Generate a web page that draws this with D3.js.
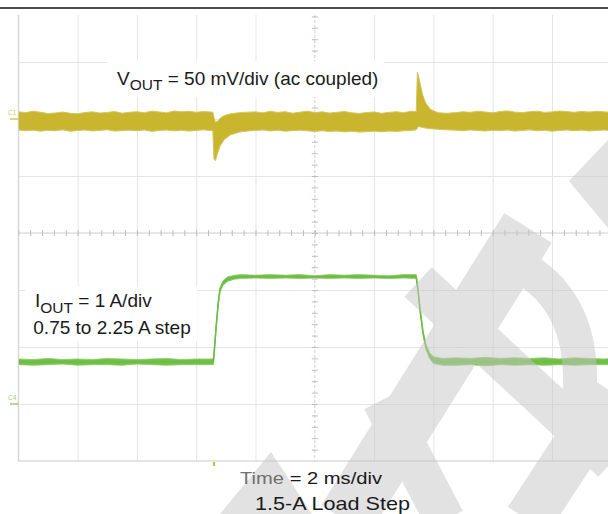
<!DOCTYPE html>
<html>
<head>
<meta charset="utf-8">
<script src="https://cdn.jsdelivr.net/npm/d3@7"></script>
<style>
  html, body { margin: 0; padding: 0; background: #fff; }
  svg { display: block; }
  text { font-family: "Liberation Sans", Arial, sans-serif; }
</style>
</head>
<body>
<svg id="chart" width="608" height="514"></svg>
<script>
// ---- scope settings ----
const timeDiv = 2;      // ms per division
const divisionsX = 10;
const voltDiv = 50;     // mV per division (CH1, ac coupled)
const ampDiv = 1;       // A per division (CH4)
const divisionsY = 8;

// ---- CH1: V_OUT ripple envelope, mV ----
const vTime = [
  0, 0.25, 0.5, 0.75, 1, 1.25, 1.5, 1.75, 2, 2.25, 2.5, 2.75, 3, 3.25, 3.5, 3.75, 4, 4.25, 4.5, 4.75, 5, 5.25, 5.5, 5.75, 6, 6.25, 6.5,
  6.56, 6.6, 6.65, 6.72, 6.82, 6.95, 7.15, 7.45, 7.75,
  8, 8.25, 8.5, 8.75, 9, 9.25, 9.5, 9.75, 10, 10.25, 10.5, 10.75, 11, 11.25, 11.5, 11.75, 12, 12.25, 12.5, 12.75, 13, 13.25,
  13.42, 13.46, 13.5, 13.56, 13.64, 13.74, 13.9, 14.15, 14.45,
  14.75, 15, 15.25, 15.5, 15.75, 16, 16.25, 16.5, 16.75, 17, 17.25, 17.5, 17.75, 18, 18.25, 18.5, 18.75, 19, 19.25, 19.5, 19.75, 20
];
const vHigh = [
  6.4, 5.6, 6.8, 5.9, 4.8, 5.3, 6.1, 5.0, 4.6, 5.7, 6.3, 5.2, 5.8, 6.6, 5.1, 5.9, 6.4, 5.5, 6.9, 6.2, 5.4, 7.0, 6.3, 6.8, 5.9, 6.5, 6.1,
  6.0, 1.5, -3.0, -2.0, 1.0, 3.0, 4.5, 5.5, 6.0,
  6.2, 5.5, 6.7, 5.8, 6.4, 5.1, 6.0, 6.9, 5.6, 6.3, 5.2, 5.9, 6.5, 5.4, 4.9, 5.7, 6.2, 5.0, 5.8, 6.4, 5.5, 6.8,
  6.5, 41.0, 37.5, 30.0, 21.0, 14.0, 8.5, 5.5, 5.0,
  5.6, 6.3, 5.9, 6.8, 6.1, 5.4, 6.6, 7.1, 6.0, 5.7, 6.4, 6.9, 5.8, 6.2, 7.0, 6.5, 5.9, 6.6, 6.1, 6.8, 6.3, 5.8
];
const vLow = [
  -9.6, -10.3, -9.8, -10.7, -9.9, -10.4, -9.5, -10.8, -10.1, -9.7, -10.5, -10.0, -9.4, -10.6, -10.2, -9.8, -10.3, -9.6, -10.9, -10.1, -9.7, -10.4, -9.9, -10.6, -10.0, -9.5, -10.2,
  -10.0, -35.5, -36.5, -30.0, -23.0, -18.0, -14.0, -11.5, -10.5,
  -10.1, -9.6, -10.5, -9.9, -10.7, -10.2, -9.8, -10.4, -10.9, -10.3, -11.0, -10.6, -11.3, -10.8, -11.5, -11.1, -10.7, -11.2, -10.6, -10.9, -10.4, -10.0,
  -9.5, -8.0, -6.5, -7.0, -7.5, -8.0, -8.5, -9.0, -9.5,
  -9.8, -10.3, -9.6, -10.1, -10.5, -9.9, -10.2, -9.7, -10.6, -10.0, -9.5, -10.4, -9.9, -10.7, -10.1, -9.6, -10.3, -9.8, -10.5, -10.0, -9.7, -10.2
];

// ---- CH4: I_OUT envelope, A (0.75 A -> 2.25 A -> 0.75 A) ----
const iTime = [
  0, 0.5, 1, 1.5, 2, 2.5, 3, 3.5, 4, 4.5, 5, 5.5, 6, 6.5,
  6.58, 6.62, 6.68, 6.74, 6.8, 6.9, 7.05, 7.3,
  7.5, 8, 8.5, 9, 9.5, 10, 10.5, 11, 11.5, 12, 12.5, 13, 13.42,
  13.48, 13.55, 13.65, 13.75, 13.87, 14, 14.3,
  14.75, 15.25, 15.75, 16.25, 16.75, 17.25, 17.75, 18.25, 18.75, 19.25, 19.75, 20
];
const iHigh = [
  0.79, 0.78, 0.80, 0.78, 0.79, 0.78, 0.80, 0.79, 0.78, 0.79, 0.80, 0.78, 0.79, 0.79,
  0.80, 1.05, 1.45, 1.80, 2.04, 2.16, 2.23, 2.26,
  2.27, 2.26, 2.27, 2.26, 2.27, 2.25, 2.27, 2.26, 2.27, 2.26, 2.25, 2.27, 2.27,
  2.04, 1.69, 1.29, 1.05, 0.90, 0.83, 0.80,
  0.81, 0.80, 0.82, 0.80, 0.81, 0.80, 0.81, 0.79, 0.81, 0.80, 0.79, 0.80
];
const iLow = [
  0.69, 0.68, 0.69, 0.70, 0.68, 0.69, 0.69, 0.68, 0.70, 0.69, 0.68, 0.69, 0.69, 0.69,
  0.69, 0.95, 1.35, 1.70, 1.96, 2.08, 2.15, 2.19,
  2.20, 2.21, 2.20, 2.21, 2.20, 2.21, 2.20, 2.21, 2.20, 2.21, 2.20, 2.21, 2.20,
  1.96, 1.61, 1.21, 0.95, 0.80, 0.71, 0.68,
  0.68, 0.69, 0.67, 0.69, 0.68, 0.69, 0.68, 0.69, 0.68, 0.69, 0.69, 0.69
];

// ---- captions ----
const vCaption = { name: "V", sub: "OUT", rest: " = 50 mV/div (ac coupled)" };
const iCaption = { name: "I", sub: "OUT", rest: " = 1 A/div" };
const stepCaption = "0.75 to 2.25 A step";
const timeCaption = ["Time", " = 2 ms/div"];
const figTitle = "1.5-A Load Step";

// ---- layout ----
const W = 608, H = 514;
const scrLeft = 18.3, scrTop = 5, divW = 59.3, divH = 57;
const scrRight = scrLeft + divW * divisionsX;
const scrBottom = scrTop + divH * divisionsY;
const visibleTop = 15;

const x = d3.scaleLinear().domain([0, timeDiv * divisionsX]).range([scrLeft, scrRight]);
const yV = d3.scaleLinear().domain([-6 * voltDiv, 2 * voltDiv]).range([scrBottom, scrTop]);
const yI = d3.scaleLinear().domain([-1 * ampDiv, 7 * ampDiv]).range([scrBottom, scrTop]);

const svg = d3.select("#chart");
svg.append("rect").attr("width", W).attr("height", H).attr("fill", "#fff");

const defs = svg.append("defs");
defs.append("clipPath").attr("id", "screen")
  .append("rect").attr("x", scrLeft).attr("y", visibleTop)
  .attr("width", W - scrLeft).attr("height", scrBottom - visibleTop);

const screen = svg.append("g").attr("clip-path", "url(#screen)");

// graticule: major divisions
const xMajor = d3.range(0, timeDiv * divisionsX + 0.001, timeDiv);
const vMajor = d3.range(-6 * voltDiv, 2 * voltDiv + 0.001, voltDiv);
const xCenter = timeDiv * divisionsX / 2;
const vCenter = -2 * voltDiv;

const gridX = screen.append("g").attr("transform", `translate(0,${scrBottom})`)
  .call(d3.axisBottom(x).tickValues(xMajor.filter(d => d !== xCenter))
    .tickSize(-(scrBottom - visibleTop)).tickFormat(""));
const gridY = screen.append("g").attr("transform", `translate(${scrLeft},0)`)
  .call(d3.axisLeft(yV).tickValues(vMajor.filter(d => d !== vCenter))
    .tickSize(-(W - scrLeft)).tickFormat(""));
[gridX, gridY].forEach(g => {
  g.select(".domain").remove();
  g.selectAll("line").attr("stroke", "#e5e5e5").attr("stroke-width", 1);
});

// center cross with minor ticks
const centerY = yV(vCenter), centerX = x(xCenter);
screen.append("line").attr("x1", scrLeft).attr("x2", W).attr("y1", centerY).attr("y2", centerY)
  .attr("stroke", "#cfcfcf").attr("stroke-width", 1);
screen.append("line").attr("x1", centerX).attr("x2", centerX).attr("y1", visibleTop).attr("y2", scrBottom)
  .attr("stroke", "#cfcfcf").attr("stroke-width", 1).attr("stroke-dasharray", "3,2");

const minorX = screen.append("g").attr("transform", `translate(0,${centerY - 3})`)
  .call(d3.axisBottom(x).tickValues(d3.range(0, timeDiv * divisionsX + 0.001, timeDiv / 5))
    .tickSize(6).tickFormat(""));
const minorY = screen.append("g").attr("transform", `translate(${centerX + 3},0)`)
  .call(d3.axisLeft(yV).tickValues(d3.range(-6 * voltDiv, 2 * voltDiv + 0.001, voltDiv / 5))
    .tickSize(6).tickFormat(""));
[minorX, minorY].forEach(g => {
  g.select(".domain").remove();
  g.selectAll("line").attr("stroke", "#bdbdbd").attr("stroke-width", 1);
});

// CH1 trace
const vData = vTime.map((t, i) => ({ t, hi: vHigh[i], lo: vLow[i] }));
screen.append("path").datum(vData)
  .attr("d", d3.area().x(d => x(d.t)).y0(d => yV(d.lo)).y1(d => yV(d.hi)))
  .attr("fill", "#c9b62e").attr("stroke", "#d4c65a").attr("stroke-width", 1);

// CH4 trace
const iData = iTime.map((t, i) => ({ t, hi: iHigh[i], lo: iLow[i] }));
screen.append("path").datum(iData)
  .attr("d", d3.area().x(d => x(d.t)).y0(d => yI(d.lo)).y1(d => yI(d.hi)))
  .attr("fill", "#74c04a").attr("stroke", "#8acb66").attr("stroke-width", 0.8);
screen.append("path").datum(iData)
  .attr("d", d3.line().x(d => x(d.t)).y(d => yI((d.hi + d.lo) / 2)))
  .attr("fill", "none").attr("stroke", "#6cbc42").attr("stroke-width", 1.5);

// screen frame (left and bottom edges)
svg.append("line").attr("x1", scrLeft).attr("x2", scrLeft).attr("y1", visibleTop).attr("y2", scrBottom)
  .attr("stroke", "#d0d0d0");
svg.append("line").attr("x1", scrLeft).attr("x2", W).attr("y1", scrBottom).attr("y2", scrBottom)
  .attr("stroke", "#cbcbcb");

// channel ground markers and trigger position
const marker = (label, yPos, color) => {
  svg.append("text").attr("x", 8).attr("y", yPos - 4).attr("font-size", 6.5)
    .attr("fill", color).attr("opacity", 0.75).text(label);
  svg.append("line").attr("x1", 10).attr("x2", scrLeft).attr("y1", yPos).attr("y2", yPos)
    .attr("stroke", color).attr("stroke-width", 1.4).attr("opacity", 0.8);
};
marker("C1", yV(0), "#c8b52c");
marker("C4", yI(0), "#72c048");
svg.append("line").attr("x1", x(6.6)).attr("x2", x(6.6)).attr("y1", scrBottom + 1).attr("y2", scrBottom + 5)
  .attr("stroke", "#b9c23a").attr("stroke-width", 2);

// top rule
svg.append("line").attr("x1", 0).attr("x2", W).attr("y1", 8).attr("y2", 8)
  .attr("stroke", "#111").attr("stroke-width", 1.6);

// caption boxes
svg.append("rect").attr("x", 107).attr("y", 61).attr("width", 277).attr("height", 36).attr("fill", "#fff");
svg.append("rect").attr("x", 25).attr("y", 286).attr("width", 172).attr("height", 55).attr("fill", "#fff");

// faint logo strokes
const logo = svg.append("g").attr("opacity", 0.5).attr("fill", "#c6c6c6").attr("stroke", "#c6c6c6");
const seg = d3.line();
logo.append("path").attr("d", "M608,140 L569,181 L608,228 Z").attr("stroke", "none");
logo.append("path").attr("d", "M271,452 L220,514 L312,514 Z").attr("stroke", "none");
logo.append("path").attr("d", seg([[528, 228], [345, 520]])).attr("fill", "none").attr("stroke-width", 56);
logo.append("path").attr("d", seg([[418, 282], [612, 462]])).attr("fill", "none").attr("stroke-width", 40);
logo.append("path").attr("d", "M512,262 Q592,300 578,410").attr("fill", "none").attr("stroke-width", 34);
logo.append("path").attr("d", seg([[612, 392], [528, 520]])).attr("fill", "none").attr("stroke-width", 48);
logo.append("path").attr("d", seg([[382, 400], [445, 520]])).attr("fill", "none").attr("stroke-width", 40);

// captions
const txt = "#1a1a1a";
const vt = svg.append("text").attr("x", 117).attr("y", 84.5).attr("font-size", 19).attr("fill", txt);
vt.append("tspan").text(vCaption.name);
vt.append("tspan").attr("dy", 5.5).attr("font-size", 15.5).text(vCaption.sub);
vt.append("tspan").attr("dy", -5.5).text(vCaption.rest);

const it = svg.append("text").attr("x", 35).attr("y", 307).attr("font-size", 19).attr("fill", txt);
it.append("tspan").text(iCaption.name);
it.append("tspan").attr("dy", 5.5).attr("font-size", 15.5).text(iCaption.sub);
it.append("tspan").attr("dy", -5.5).text(iCaption.rest);

svg.append("text").attr("x", 33.3).attr("y", 334).attr("font-size", 19).attr("fill", txt).text(stepCaption);

const tt = svg.append("text").attr("x", 240).attr("y", 484).attr("font-size", 17)
  .attr("textLength", 142).attr("lengthAdjust", "spacingAndGlyphs").attr("fill", txt);
tt.append("tspan").attr("fill", "#707070").text(timeCaption[0]);
tt.append("tspan").text(timeCaption[1]);

svg.append("text").attr("x", 255).attr("y", 510).attr("font-size", 19)
  .attr("textLength", 155).attr("lengthAdjust", "spacingAndGlyphs").attr("fill", txt).text(figTitle);
</script>
</body>
</html>
